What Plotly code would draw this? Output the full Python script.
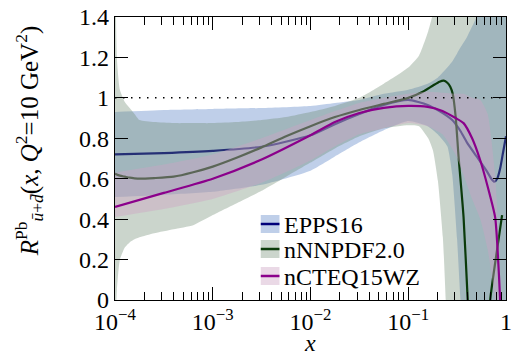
import plotly.graph_objects as go

# ---------------- data ----------------
# EPPS16
epps_x = [1e-4, 3.16e-4, 1e-3, 3.16e-3, 1e-2, 1.778e-2, 3.16e-2, 5.62e-2, 0.1, 0.158, 0.2, 0.251, 0.282, 0.316, 0.343,
          0.398, 0.501, 0.631, 0.708, 0.759, 0.813, 0.871, 0.933, 1.0]
epps_c = [0.720, 0.727, 0.738, 0.758, 0.815, 0.87, 0.92, 0.965, 0.99, 0.965, 0.94, 0.91, 0.89, 0.86, 0.835,
          0.78, 0.71, 0.64, 0.60, 0.585, 0.60, 0.65, 0.73, 0.81]
epps_lo = [0.51, 0.52, 0.535, 0.57, 0.64, 0.71, 0.78, 0.84, 0.885, 0.86, 0.82, 0.76, 0.62, 0.30, 0.0,
           -0.30, -0.5, -0.6, -0.6, -0.6, -0.6, -0.6, -0.6, -0.6]
epps_hi = [0.93, 0.94, 0.945, 0.95, 0.96, 0.975, 0.99, 1.02, 1.04, 1.07, 1.10, 1.15, 1.18, 1.22, 1.25,
           1.30, 1.40, 1.50, 1.55, 1.58, 1.6, 1.65, 1.7, 1.7]

# nNNPDF2.0 (central)
nn_x = [1e-4, 1.122e-4, 1.259e-4, 1.413e-4, 1.585e-4, 1.778e-4, 2.512e-4, 3.98e-4, 6.31e-4, 1e-3,
        1.778e-3, 3.16e-3, 5.62e-3, 1e-2, 1.778e-2, 3.16e-2, 5.62e-2, 0.1, 0.141, 0.178, 0.209, 0.231, 0.251,
        0.269, 0.285, 0.305, 0.327, 0.368, 0.404, 0.44, 0.501, 0.631, 0.689, 0.794, 0.912]
nn_c = [0.624, 0.615, 0.610, 0.605, 0.602, 0.600, 0.603, 0.61, 0.632, 0.66,
        0.705, 0.755, 0.81, 0.86, 0.905, 0.94, 0.97, 1.00, 1.03, 1.06, 1.08, 1.085, 1.075,
        1.055, 1.02, 0.91, 0.71, 0.41, 0.02, -0.3, -0.7, -0.3, 0.0, 0.22, 0.42]
# nNNPDF2.0 (band)
nnb_x = [1e-4, 1.047e-4, 1.122e-4, 1.259e-4, 1.413e-4, 1.585e-4, 1.778e-4, 2.512e-4, 3.98e-4, 6.31e-4, 1e-3,
         1.778e-3, 3.16e-3, 5.62e-3, 1e-2, 1.778e-2, 3.16e-2, 5.62e-2, 0.1, 0.129, 0.16, 0.179, 0.201, 0.226,
         0.242, 0.26, 0.3, 0.4, 0.6, 1.0]
nn_lo = [-0.2, 0.05, 0.20, 0.26, 0.285, 0.30, 0.31, 0.33, 0.35, 0.37, 0.42,
         0.48, 0.54, 0.61, 0.68, 0.75, 0.81, 0.85, 0.865, 0.86, 0.80, 0.74, 0.59, 0.31,
         0.0, -0.5, -0.6, -0.6, -0.6, -0.6]
nn_hi = [1.8, 1.19, 1.04, 0.98, 0.95, 0.92, 0.89, 0.88, 0.875, 0.875, 0.875,
         0.88, 0.89, 0.905, 0.93, 0.96, 1.00, 1.07, 1.15, 1.21, 1.33, 1.42, 1.6, 1.8,
         1.8, 1.8, 1.8, 1.8, 1.8, 1.8]

# nCTEQ15WZ
nc_x = [1e-4, 3.16e-4, 1e-3, 3.16e-3, 1e-2, 1.778e-2, 3.16e-2, 5.62e-2, 0.1, 0.158, 0.224, 0.305, 0.368,
        0.45, 0.546, 0.65, 0.774, 0.82, 0.869, 0.93, 1.0]
nc_c = [0.46, 0.53, 0.60, 0.695, 0.815, 0.88, 0.925, 0.95, 0.96, 0.955, 0.935, 0.90, 0.875,
        0.80, 0.69, 0.56, 0.41, 0.25, 0.01, -0.4, -0.8]
nc_lo = [0.41, 0.45, 0.50, 0.58, 0.69, 0.76, 0.82, 0.85, 0.875, 0.86, 0.82, 0.72, 0.62,
         0.50, 0.40, 0.25, 0.0, -0.2, -0.4, -0.6, -0.8]
nc_hi = [0.63, 0.67, 0.72, 0.80, 0.89, 0.935, 0.975, 1.0, 1.02, 1.03, 1.025, 1.02, 1.02,
         1.0, 0.99, 0.92, 0.62, 0.42, 0.12, -0.2, -0.4]

x_tickvals = [1e-4, 1e-3, 1e-2, 1e-1, 1]
x_ticktext = ["10<sup>−4</sup>", "10<sup>−3</sup>", "10<sup>−2</sup>", "10<sup>−1</sup>", "1"]
x_minor = [m * 10 ** e for e in range(-4, 0) for m in range(2, 10)]
y_tickvals = [0, 0.2, 0.4, 0.6, 0.8, 1, 1.2, 1.4]
y_ticktext = ["0", "0.2", "0.4", "0.6", "0.8", "1", "1.2", "1.4"]

series = [
    dict(name="EPPS16", x=epps_x, c=epps_c, bx=epps_x, lo=epps_lo, hi=epps_hi,
         fill="rgba(95,135,200,0.40)", line="#00007a"),
    dict(name="nNNPDF2.0", x=nn_x, c=nn_c, bx=nnb_x, lo=nn_lo, hi=nn_hi,
         fill="rgba(105,135,108,0.35)", line="#0a3a0a"),
    dict(name="nCTEQ15WZ", x=nc_x, c=nc_c, bx=nc_x, lo=nc_lo, hi=nc_hi,
         fill="rgba(206,165,196,0.42)", line="#8b008b"),
]

FONT = "Liberation Serif"
fig = go.Figure()
for s in series:
    fig.add_trace(go.Scatter(
        x=list(s["bx"]) + list(s["bx"])[::-1], y=list(s["hi"]) + list(s["lo"])[::-1],
        fill="toself", fillcolor=s["fill"], line=dict(width=0, shape="spline", smoothing=0.5), mode="lines",
        hoverinfo="skip", showlegend=False))
    fig.add_trace(go.Scatter(
        x=s["x"], y=s["c"], mode="lines", line=dict(color=s["line"], width=2.2, shape="spline", smoothing=0.6),
        name=s["name"], showlegend=False))

W, H = 516, 356
L, R, T, B = 115, 4, 17, 56
PW, PH = W - L - R, H - T - B


def px(xp):
    return (xp - L) / PW


def py(yp):
    return (H - B - yp) / PH


shapes = [dict(type="line", xref="paper", yref="y", x0=0, x1=1, y0=1, y1=1,
               line=dict(color="black", width=1.5, dash="1.5px,6.5px"), layer="above")]
annotations = []
leg_y = [224, 249, 276]
for s, yc in zip(series, leg_y):
    shapes.append(dict(type="rect", xref="paper", yref="paper", x0=px(263), x1=px(282),
                       y0=py(yc + 9), y1=py(yc - 9), fillcolor=s["fill"], line=dict(width=0)))
    shapes.append(dict(type="line", xref="paper", yref="paper", x0=px(263), x1=px(282),
                       y0=py(yc), y1=py(yc), line=dict(color=s["line"], width=2.5)))
    annotations.append(dict(xref="paper", yref="paper", x=px(285), y=py(yc + 1), xanchor="left",
                            yanchor="middle", text=s["name"], showarrow=False,
                            font=dict(family=FONT, size=24, color="black")))

annotations.append(dict(xref="paper", yref="paper", x=px(28), y=py(141), xanchor="center", yanchor="middle",
                        textangle=-90, showarrow=False,
                        text="<i>R</i><sup>Pb</sup><sub><i>ū</i>+<i>d̄</i></sub>(<i>x</i>, <i>Q</i><sup>2</sup>=10 GeV<sup>2</sup>)",
                        font=dict(family=FONT, size=25, color="black")))
annotations.append(dict(xref="paper", yref="paper", x=px(313), y=py(357), xanchor="center", yanchor="bottom",
                        showarrow=False, text="<i>x</i>", borderpad=0,
                        font=dict(family=FONT, size=24, color="black")))

fig.update_layout(
    width=W, height=H, margin=dict(l=L, r=R, t=T, b=B),
    paper_bgcolor="white", plot_bgcolor="white",
    font=dict(family=FONT, size=24, color="black"),
    showlegend=False, shapes=shapes, annotations=annotations,
)
fig.update_xaxes(type="log", range=[-4, 0], tickmode="array", tickvals=x_tickvals, ticktext=x_ticktext,
                 ticks="inside", ticklen=13, tickwidth=1, tickcolor="black", showgrid=False, zeroline=False,
                 showline=True, linecolor="black", linewidth=1.3, mirror="allticks", ticklabeloverflow="allow",
                 minor=dict(tickmode="array", tickvals=x_minor, ticks="inside", ticklen=8, tickcolor="black",
                            tickwidth=1, showgrid=False),
                 tickfont=dict(family=FONT, size=24))
fig.update_yaxes(range=[0, 1.4], tickmode="array", tickvals=y_tickvals, ticktext=y_ticktext,
                 ticks="inside", ticklen=13, tickwidth=1, tickcolor="black", showgrid=False, zeroline=False,
                 showline=True, linecolor="black", linewidth=1.3, mirror="allticks",
                 tickfont=dict(family=FONT, size=24))

fig.write_html("out.html", config={"displayModeBar": False},
               post_script="document.body.style.margin='0';document.body.style.padding='0';")
